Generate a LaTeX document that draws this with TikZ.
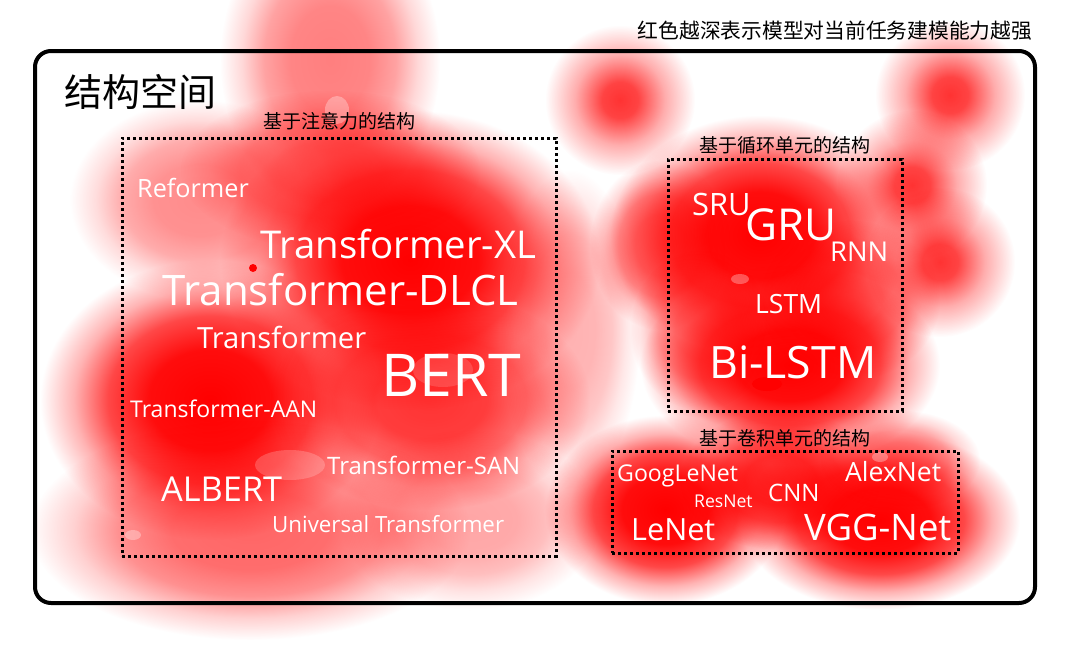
\documentclass[tikz,border=0pt]{standalone}
\usepackage{fontspec}
\setmainfont{Open Sans}
\newfontfamily\cjkfont{Noto Sans CJK SC}
\usepackage{xcolor}
\usepackage{tikz}
\usetikzlibrary{positioning}

% soft round spots for the heat map (25bp = edge of the path)
\pgfdeclareradialshading{heatspot}{\pgfpointorigin}{color(0bp)=(red); color(6bp)=(red!92!white); color(15bp)=(red!40!white); color(25bp)=(white); color(50bp)=(white)}
\pgfdeclareradialshading{heatwide}{\pgfpointorigin}{color(0bp)=(red); color(9bp)=(red!95!white); color(15bp)=(red!72!white); color(20bp)=(red!30!white); color(25bp)=(white); color(50bp)=(white)}

\begin{document}
\begin{tikzpicture}[
        x=1pt, y=-1pt,
        heat/.style={shading=heatwide, blend mode=multiply},
        spot/.style={shading=heatspot, blend mode=multiply},
        outerframe/.style={draw=black, line width=4pt, rounded corners=16pt},
        groupbox/.style={draw=black, line width=3pt, dash pattern=on 3pt off 3pt, inner sep=0pt},
        model/.style={text=white, inner sep=0pt, anchor=base west},
        grouptitle/.style={font=\cjkfont\fontsize{19}{20}\selectfont, inner sep=0pt}
    ]
    \useasboundingbox (0,0) rectangle (1072,648);
    \fill[white] (0,0) rectangle (1072,648);
    \clip (0,0) rectangle (1072,648);

    % RAHMEN
    \draw[outerframe] (35,51) rectangle (1035,603);

    % HEAT - attention
    \shade[heat] (410,260) ellipse (190 and 150);
    \shade[heat] (210,400) ellipse (170 and 140);
    \shade[heat, opacity=0.8] (430,400) ellipse (160 and 110);
    \shade[heat, opacity=0.5] (330,60) ellipse (110 and 150);
    \shade[heat, opacity=0.45] (200,200) ellipse (130 and 100);
    \shade[heat, opacity=0.5] (330,170) ellipse (150 and 80);
    \shade[heat, opacity=0.6] (250,530) ellipse (220 and 110);
    \shade[heat, opacity=0.35] (470,520) ellipse (130 and 90);
    \shade[heat, opacity=0.3] (570,330) ellipse (70 and 160);

    % HEAT - recurrent
    \shade[heat] (760,235) ellipse (150 and 120);
    \shade[heat] (790,365) ellipse (150 and 100);
    \shade[heat, opacity=0.6] (850,300) ellipse (90 and 80);
    \shade[heat, opacity=0.6] (660,245) ellipse (70 and 85);
    \shade[heat, opacity=0.5] (700,330) ellipse (70 and 80);
    \shade[spot, opacity=0.8] (620,100) ellipse (75 and 75);
    \shade[spot, opacity=0.8] (950,95) ellipse (75 and 75);
    \shade[spot, opacity=0.8] (912,185) ellipse (75 and 75);
    \shade[spot, opacity=0.8] (940,262) ellipse (75 and 75);

    % HEAT - convolution
    \shade[heat] (665,510) ellipse (120 and 95);
    \shade[heat] (880,520) ellipse (140 and 90);
    \shade[heat, opacity=0.85] (780,480) ellipse (100 and 70);
    \shade[heat, opacity=0.5] (900,460) ellipse (80 and 50);

    % small spots
    \fill[white, opacity=0.3] (337,110) ellipse (12 and 14);
    \fill[red] (253,268) circle (4);
    \fill[white, opacity=0.2] (290,465) ellipse (35 and 15);
    \fill[white, opacity=0.3] (133,535) ellipse (8 and 5);
    \fill[white, opacity=0.3] (740,279) ellipse (9 and 5);
    \fill[red] (767,384) ellipse (15 and 7);
    \fill[white, opacity=0.3] (880,457) ellipse (8 and 5);
    \fill[white, opacity=0.15] (443,370) ellipse (30 and 17);

    % GRUPPEN
    \node[groupbox, minimum width=434pt, minimum height=418pt] (attn) at (339,347) {};
    \node[groupbox, minimum width=234pt, minimum height=252pt] (rec) at (785,285) {};
    \node[groupbox, minimum width=346pt, minimum height=102pt] (conv) at (785,502) {};

    \node[grouptitle, above=6pt of attn] (attntitle) {基于注意力的结构};
    \node[grouptitle, above=3.5pt of rec] (rectitle) {基于循环单元的结构};
    \node[grouptitle, above=2.5pt of conv] (convtitle) {基于卷积单元的结构};

    \node[font=\cjkfont\fontsize{38}{40}\selectfont, inner sep=0pt] (space) at (140,92) {结构空间};
    \node[font=\cjkfont\fontsize{20.75}{22}\selectfont, inner sep=0pt] (legend) at (835,31) {红色越深表示模型对当前任务建模能力越强};

    % MODELLE - attention
    \node[model, font=\fontsize{25.2}{30}\selectfont] (reformer) at (137,197) {Reformer};
    \node[model, font=\fontsize{38.3}{40}\selectfont] (trxl) at (260,258) {Transformer-XL};
    \node[model, font=\fontsize{42}{44}\selectfont] (trdlcl) at (162,305) {Transformer-DLCL};
    \node[model, font=\fontsize{29.2}{30}\selectfont] (transformer) at (197,348) {Transformer};
    \node[model, font=\fontsize{59}{60}\selectfont] (bert) at (381,396) {BERT};
    \node[model, font=\fontsize{23}{24}\selectfont] (traan) at (130,417) {Transformer-AAN};
    \node[model, font=\fontsize{24}{25}\selectfont] (trsan) at (327,474) {Transformer-SAN};
    \node[model, font=\fontsize{34.3}{35}\selectfont] (albert) at (161,501) {ALBERT};
    \node[model, font=\fontsize{22.3}{24}\selectfont] (universal) at (272,532) {Universal Transformer};

    % MODELLE - recurrent
    \node[model, font=\fontsize{30.8}{32}\selectfont] (sru) at (692,215) {SRU};
    \node[model, font=\fontsize{44}{44}\selectfont] (gru) at (745,240) {GRU};
    \node[model, font=\fontsize{27.3}{28}\selectfont] (rnn) at (830,261) {RNN};
    \node[model, font=\fontsize{26.5}{28}\selectfont] (lstm) at (755,313) {LSTM};
    \node[model, font=\fontsize{44.6}{46}\selectfont] (bilstm) at (709,378) {Bi-LSTM};

    % MODELLE - convolution
    \node[model, font=\fontsize{23.1}{25}\selectfont] (googlenet) at (617,481) {GoogLeNet};
    \node[model, font=\fontsize{17.6}{18}\selectfont] (resnet) at (694,507) {ResNet};
    \node[model, font=\fontsize{24}{24}\selectfont] (cnn) at (768,501) {CNN};
    \node[model, font=\fontsize{26.5}{28}\selectfont] (alexnet) at (845,481) {AlexNet};
    \node[model, font=\fontsize{30.6}{32}\selectfont] (lenet) at (631,540) {LeNet};
    \node[model, font=\fontsize{36.5}{38}\selectfont] (vggnet) at (804,540) {VGG-Net};

\end{tikzpicture}
\end{document}
